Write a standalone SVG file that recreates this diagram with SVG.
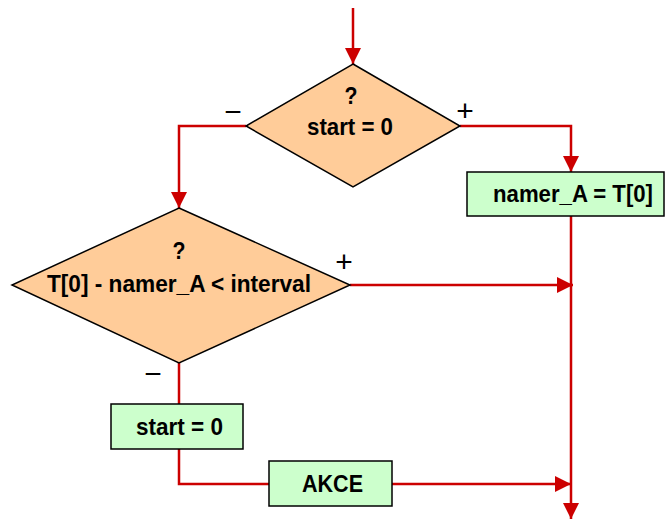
<svg xmlns="http://www.w3.org/2000/svg" width="666" height="522" viewBox="0 0 666 522">
<defs>
<marker id="arr" markerUnits="userSpaceOnUse" markerWidth="16" markerHeight="16" refX="16" refY="8" orient="auto">
<path d="M0,0 L16,8 L0,16 z" fill="#CC0000"/>
</marker>
<style>
.dec{fill:#FFCC99;stroke:#000;stroke-width:1.5}
.box{fill:#CCFFCC;stroke:#000;stroke-width:1.5}
.t{font-family:"Liberation Sans",Arial,sans-serif;font-weight:bold;font-size:24px;text-anchor:middle;fill:#000}
.sign{font-family:"Liberation Sans",Arial,sans-serif;font-size:30px;text-anchor:middle;fill:#000}
.c{fill:none;stroke:#CC0000;stroke-width:2.5}
</style>
</defs>
<rect width="666" height="522" fill="#fff"/>
<g id="connectors">
<path class="c" d="M353,8 L353,64" marker-end="url(#arr)"/>
<path class="c" d="M246,126 L179,126 L179,208" marker-end="url(#arr)"/>
<path class="c" d="M460,126 L571,126 L571,172" marker-end="url(#arr)"/>
<path class="c" d="M571,216 L571,519" marker-end="url(#arr)"/>
<path class="c" d="M350,285 L573,285" marker-end="url(#arr)"/>
<path class="c" d="M179,363 L179,404"/>
<path class="c" d="M179,449 L179,484 L269,484"/>
<path class="c" d="M392,484 L571,484" marker-end="url(#arr)"/>
</g>
<g id="dec1">
<polygon class="dec" points="353,64 460,126 353,187 246,126"/>
<text class="t" x="351" y="104" textLength="13" lengthAdjust="spacingAndGlyphs">?</text>
<text class="t" x="350" y="135" textLength="86" lengthAdjust="spacingAndGlyphs">start = 0</text>
<text class="sign" x="233" y="122">−</text>
<text class="sign" x="465" y="121">+</text>
</g>
<g id="box1">
<rect class="box" x="467" y="172" width="197" height="44"/>
<text class="t" x="573" y="202" textLength="160" lengthAdjust="spacingAndGlyphs">namer_A = T[0]</text>
</g>
<g id="dec2">
<polygon class="dec" points="179,208 350,285 179,363 12,285"/>
<text class="t" x="179" y="259" textLength="13" lengthAdjust="spacingAndGlyphs">?</text>
<text class="t" x="179" y="292" textLength="264" lengthAdjust="spacingAndGlyphs">T[0] - namer_A &lt; interval</text>
<text class="sign" x="344" y="272">+</text>
<text class="sign" x="153" y="384">−</text>
</g>
<g id="box2">
<rect class="box" x="111" y="404" width="132" height="45"/>
<text class="t" x="179.5" y="435" textLength="87" lengthAdjust="spacingAndGlyphs">start = 0</text>
</g>
<g id="box3">
<rect class="box" x="269" y="461" width="123" height="45"/>
<text class="t" x="332.5" y="492" textLength="61" lengthAdjust="spacingAndGlyphs">AKCE</text>
</g>
</svg>
